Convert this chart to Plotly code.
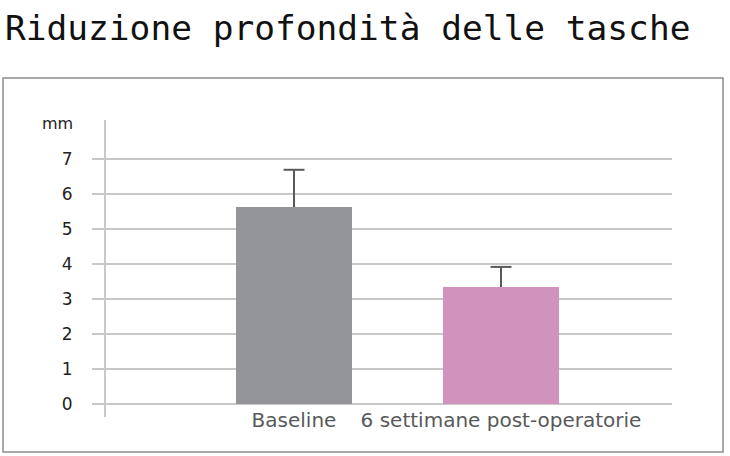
import plotly.graph_objects as go

# ---- data ----
categories = ["Baseline", "6 settimane post-operatorie"]
values = [5.63, 3.33]
errors_up = [1.05, 0.58]
errors_down = [0, 0]
bar_colors = ["#939598", "#d192bd"]
y_ticks = [0, 1, 2, 3, 4, 5, 6, 7]
title_text = "Riduzione profondità delle tasche"
unit_text = "mm"

# ---- layout geometry (pixels) ----
W, H = 730, 456
L, R, T, B = 105, 58, 120, 52
pw, ph = W - L - R, H - T - B


def px_x(x):
    return (x - L) / pw


def px_y(y):
    return (H - B - y) / ph


grid_col = "#c8c8c8"
err_col = "#58595b"

fig = go.Figure()
fig.add_trace(go.Bar(
    x=categories,
    y=values,
    marker=dict(color=bar_colors, line=dict(width=0)),
    width=0.56,
    error_y=dict(type="data", array=errors_up, arrayminus=errors_down,
                 symmetric=False, color=err_col, thickness=2, width=0),
    showlegend=False,
    hoverinfo="skip",
))
# caps of the error bars (top only)
fig.add_trace(go.Scatter(
    x=categories,
    y=[v + e for v, e in zip(values, errors_up)],
    mode="markers",
    marker=dict(symbol="line-ew", size=15, line=dict(color=err_col, width=2)),
    showlegend=False,
    hoverinfo="skip",
))

fig.update_layout(
    width=W, height=H,
    margin=dict(l=L, r=R, t=T, b=B, pad=0),
    paper_bgcolor="white", plot_bgcolor="white",
    font=dict(family="DejaVu Sans", color="#222222"),
    title=dict(text=title_text, x=5 / W, xanchor="left", xref="container",
               y=1 - 28 / H, yanchor="middle", yref="container",
               font=dict(family="DejaVu Sans Mono", size=34.5, color="#111111")),
    xaxis=dict(range=[-0.913, 1.826], showgrid=False, showline=False,
               zeroline=False, ticks="", ticklabelstandoff=2,
               tickfont=dict(size=20, color="#58595b")),
    yaxis=dict(range=[0, 8.1], tickvals=y_ticks, showgrid=True,
               gridcolor=grid_col, gridwidth=2, zeroline=True,
               zerolinecolor=grid_col, zerolinewidth=2, showline=False,
               ticks="outside", ticklen=12, tickwidth=2, tickcolor=grid_col,
               ticklabelstandoff=16,
               tickfont=dict(size=17, color="#222222")),
    bargap=0,
)

fig.add_annotation(text=unit_text, xref="paper", yref="paper",
                   x=px_x(75), y=px_y(123), xanchor="right", yanchor="middle",
                   showarrow=False, font=dict(size=16, color="#222222"))

# y axis line extended past the grid
fig.add_shape(type="line", xref="paper", yref="paper",
              x0=0, x1=0, y0=px_y(417), y1=px_y(120),
              line=dict(color=grid_col, width=2))

# outer frame
fig.add_shape(type="rect", xref="paper", yref="paper",
              x0=px_x(3), x1=px_x(723), y0=px_y(452), y1=px_y(78),
              line=dict(color="#8c8c8c", width=1.5), fillcolor="rgba(0,0,0,0)",
              layer="below")

fig.write_html("out.html",
               config={"displayModeBar": False},
               post_script="document.body.style.margin='0';"
                           "document.body.style.padding='0';"
                           "document.body.style.overflow='hidden';")
